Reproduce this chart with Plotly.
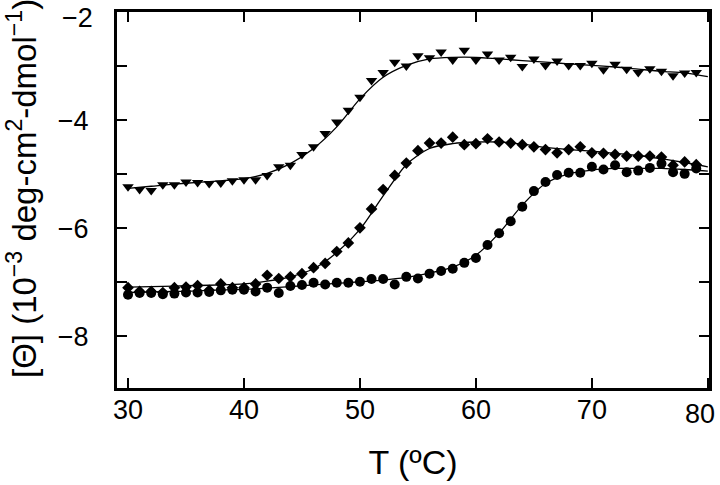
import plotly.graph_objects as go

# Measured points (T in °C, ellipticity in 10^-3 deg cm^2 dmol^-1)
temps = list(range(30, 80))

tri_vals = [-5.23, -5.28, -5.30, -5.19, -5.19, -5.14, -5.15, -5.17, -5.16, -5.12,
            -5.10, -5.10, -5.02, -4.86, -4.83, -4.63, -4.49, -4.24, -4.03, -3.81,
            -3.57, -3.26, -3.11, -2.92, -2.99, -2.80, -2.84, -2.73, -2.88, -2.70,
            -2.88, -2.77, -2.88, -2.83, -3.00, -2.86, -2.98, -2.90, -2.98, -2.98,
            -2.94, -3.06, -2.96, -3.05, -3.11, -3.04, -3.09, -3.17, -3.12, -3.11]

dia_vals = [-7.10, -7.17, -7.17, -7.19, -7.10, -7.09, -7.06, -7.15, -7.03, -7.10,
            -7.10, -7.03, -6.87, -6.93, -6.90, -6.84, -6.73, -6.65, -6.43, -6.27,
            -5.99, -5.64, -5.28, -5.02, -4.79, -4.56, -4.42, -4.42, -4.31, -4.45,
            -4.43, -4.34, -4.40, -4.42, -4.45, -4.49, -4.54, -4.60, -4.54, -4.49,
            -4.60, -4.61, -4.63, -4.66, -4.66, -4.66, -4.68, -4.83, -4.77, -4.82]

cir_vals = [-7.23, -7.20, -7.20, -7.22, -7.21, -7.19, -7.19, -7.18, -7.15, -7.14,
            -7.14, -7.17, -7.10, -7.20, -7.07, -7.05, -7.01, -7.04, -7.01, -7.01,
            -6.99, -6.94, -6.94, -7.04, -6.90, -6.93, -6.84, -6.79, -6.75, -6.64,
            -6.55, -6.31, -6.09, -5.87, -5.60, -5.31, -5.14, -5.01, -4.97, -4.97,
            -4.86, -4.91, -4.83, -4.96, -4.93, -4.88, -4.80, -4.96, -4.99, -4.89]

# Fitted curves (every 2 °C)
fit_t = list(range(30, 81, 2))
tri_fit = [-5.26, -5.22, -5.18, -5.15, -5.12, -5.08, -4.98, -4.80, -4.52, -4.12,
           -3.60, -3.20, -2.98, -2.86, -2.83, -2.83, -2.86, -2.89, -2.92, -2.95,
           -2.98, -3.01, -3.05, -3.09, -3.12, -3.19]
dia_fit = [-7.09, -7.08, -7.07, -7.06, -7.05, -7.03, -6.98, -6.90, -6.75, -6.45,
           -6.02, -5.40, -4.82, -4.52, -4.43, -4.40, -4.40, -4.44, -4.50, -4.54,
           -4.57, -4.61, -4.65, -4.71, -4.78, -4.86]
cir_fit = [-7.19, -7.18, -7.17, -7.16, -7.14, -7.13, -7.11, -7.08, -7.05, -7.02,
           -6.99, -6.96, -6.91, -6.83, -6.72, -6.50, -6.09, -5.57, -5.17, -4.99,
           -4.92, -4.89, -4.89, -4.89, -4.91, -4.94]

x_ticks = [30, 40, 50, 60, 70, 80]
x_tick_text = ["30", "40", "50", "60", "70", ""]
last_x_label = "80"
y_ticks = [-8, -6, -4, -2]
y_tick_text = ["\u22128", "\u22126", "\u22124", ""]
top_y_label = "\u22122"
y_minor = [-9, -7, -5, -3]
x_title = "T (\u00baC)"
y_title = "[\u0398] (10<sup>\u22123</sup> deg-cm<sup>2</sup>-dmol<sup>\u22121</sup>)"

fig = go.Figure()
for fx, fy in [(fit_t, tri_fit), (fit_t, dia_fit), (fit_t, cir_fit)]:
    fig.add_trace(go.Scatter(x=fx, y=fy, mode="lines",
                             line=dict(color="black", width=1.3, shape="spline", smoothing=0.8),
                             showlegend=False, hoverinfo="skip"))

fig.add_trace(go.Scatter(x=temps, y=tri_vals, mode="markers",
                         marker=dict(symbol="triangle-down", size=10, color="black"), showlegend=False))
fig.add_trace(go.Scatter(x=temps, y=dia_vals, mode="markers",
                         marker=dict(symbol="diamond", size=9, color="black"), showlegend=False))
fig.add_trace(go.Scatter(x=temps, y=cir_vals, mode="markers",
                         marker=dict(symbol="circle", size=10, color="black"), showlegend=False))

font_family = "Liberation Sans, Arial, Helvetica, sans-serif"
fig.update_layout(
    width=720, height=485,
    margin=dict(l=117, r=11, t=12, b=97),
    paper_bgcolor="white", plot_bgcolor="white",
    font=dict(family=font_family, color="black"),
)
fig.add_annotation(x=80, y=0, xref="x", yref="paper", text=last_x_label, showarrow=False,
                   xanchor="center", yanchor="top", xshift=-8, yshift=-9, font=dict(size=27))
fig.add_annotation(x=0, y=-2, xref="paper", yref="y", text=top_y_label, showarrow=False,
                   xanchor="right", yanchor="top", xshift=-22, yshift=12, font=dict(size=27))
fig.add_annotation(x=0, y=0.5, xref="paper", yref="paper", text=y_title, showarrow=False,
                   textangle=-90, xanchor="center", yanchor="middle", xshift=-95, yshift=11,
                   font=dict(size=33))
fig.update_xaxes(
    range=[29.05, 80.1], tickvals=x_ticks, ticktext=x_tick_text, ticks="inside", ticklen=10, tickwidth=2,
    tickcolor="black", showline=True, linecolor="black", linewidth=3, mirror="ticks",
    showgrid=False, zeroline=False, tickfont=dict(size=27), ticklabelstandoff=-4, automargin=False,
    title=dict(text=x_title, font=dict(size=34), standoff=26),
)
fig.update_yaxes(
    range=[-8.96, -1.99], tickvals=y_ticks, ticktext=y_tick_text, ticks="inside", ticklen=10, tickwidth=2,
    tickcolor="black", showline=True, linecolor="black", linewidth=3, mirror="ticks",
    showgrid=False, zeroline=False, tickfont=dict(size=27), ticklabelstandoff=20, automargin=False,
    minor=dict(tickvals=y_minor, ticks="inside", ticklen=10, tickwidth=2, tickcolor="black"),
)

fig.write_html("out.html", config={"displayModeBar": False},
               post_script="document.body.style.margin='0';")
